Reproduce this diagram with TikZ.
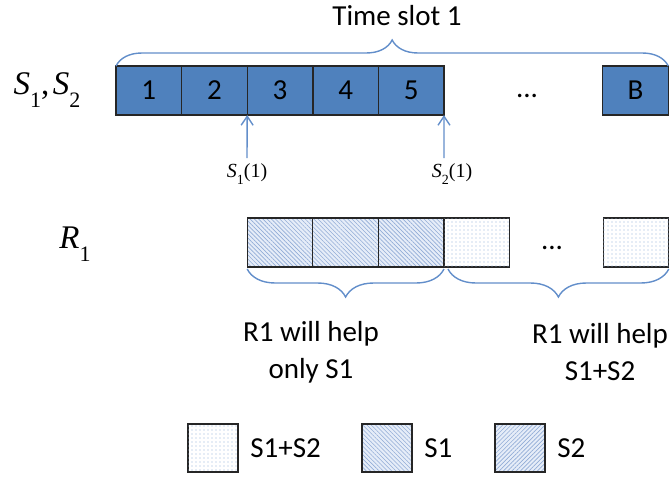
\documentclass[tikz,border=0pt]{standalone}
\usepackage{fontspec}
\setmainfont{Carlito}
\newfontfamily\tms{Liberation Serif}
\usepackage{xcolor}
\usepackage{tikz}
\usetikzlibrary{arrows.meta}
\usetikzlibrary{positioning}
\usetikzlibrary{patterns.meta}
\usetikzlibrary{decorations.pathreplacing}
\definecolor{slotblue}{RGB}{79,129,189}
\definecolor{braceblue}{RGB}{98,142,202}
\definecolor{hatchbg}{RGB}{230,237,248}
\definecolor{hatchline}{RGB}{145,172,214}
\definecolor{dotblue}{RGB}{150,178,218}
\newcommand{\svar}[3]{\textit{#1}\raisebox{-0.38em}{\fontsize{#3}{#3}\selectfont #2}}
\tikzstyle{slot} = [rectangle, draw=black!85, line width=0.7pt, fill=slotblue, minimum width=32.8pt, minimum height=24.5pt, inner sep=0pt, outer sep=0pt]
\tikzstyle{hone} = [rectangle, draw=black!85, line width=0.6pt, minimum width=32.8pt, minimum height=24.5pt, inner sep=0pt, outer sep=0pt, preaction={fill=hatchbg}, pattern={Lines[angle=-45,distance=1.5pt,line width=0.3pt]}, pattern color=hatchline]
\tikzstyle{htwo} = [hone, pattern={Lines[angle=45,distance=1.5pt,line width=0.3pt]}]
\tikzstyle{both} = [rectangle, draw=black!85, line width=0.6pt, minimum width=32.8pt, minimum height=24.5pt, inner sep=0pt, outer sep=0pt, fill=white, postaction={pattern={Dots[distance=2pt,radius=0.3pt]}, pattern color=dotblue}]
\tikzstyle{key} = [minimum width=25pt, minimum height=24pt]
\tikzstyle{up} = [draw=braceblue, line width=0.7pt, -{Straight Barb[length=4.5pt,width=6pt]}]
\tikzstyle{brup} = [draw=braceblue, line width=0.7pt, decorate, decoration={brace, amplitude=13pt}]
\tikzstyle{brdown} = [draw=braceblue, line width=0.7pt, decorate, decoration={brace, mirror, amplitude=14pt, raise=1pt}]
\begin{document}
\begin{tikzpicture}
				[x=0.5pt, y=-0.5pt,
				font=\fontsize{14.5}{18.5}\selectfont
				]
				\useasboundingbox (0,0) rectangle (671,478);
				% slots of the sources
				\node[slot] (s1) at (148.8,90.5) {1};
				\foreach \i/\j in {2/1,3/2,4/3,5/4}
				\node[slot, right=0pt of s\j] (s\i) {\i};
				\node (sdots) at (527,96) {...};
				\node[slot] (sB) at (635.5,90.5) {B};
				\node (lab) at (47,90) {\tms\fontsize{16.5}{18}\selectfont\svar{S}{1}{11},\kern0.1em\svar{S}{2}{11}};
				\draw[brup] (s1.north west) -- (sB.north east);
				\node (ts) at (397,16) {Time slot 1};
				% arrival instants
				\coordinate (a1) at (247,158);
				\coordinate (a2) at (444,158);
				\draw[up] (a1) -- (s2.south east);
				\draw[up] (a2) -- (s5.south east);
				\node (t1) at (247,174) {\tms\fontsize{10}{12}\selectfont\svar{S}{1}{7}(1)};
				\node (t2) at (452,174) {\tms\fontsize{10}{12}\selectfont\svar{S}{2}{7}(1)};
				% slots of the relay
				\node[hone] (r1) at (280,242.5) {};
				\node[hone, right=0pt of r1] (r2) {};
				\node[hone, right=0pt of r2] (r3) {};
				\node[both, right=0pt of r3] (r4) {};
				\node (rdots) at (552,248) {...};
				\node[both] (rB) at (636,242.5) {};
				\node (labr) at (75,244) {\tms\fontsize{16.5}{18}\selectfont\svar{R}{1}{11}};
				\draw[brdown] (r1.south west) -- (r3.south east);
				\draw[brdown] ([xshift=2pt]r4.south west) -- (rB.south east);
				\node[align=center] (h1) at (311,352) {R1 will help\\only S1};
				\node[align=center] (h2) at (600,352) {R1 will help\\S1+S2};
				% legend
				\node[both, key] (k1) at (213,448) {};
				\node[right=5pt of k1, inner sep=1pt] (k1t) {S1+S2};
				\node[hone, key] (k2) at (387,448) {};
				\node[right=5pt of k2, inner sep=1pt] (k2t) {S1};
				\node[htwo, key] (k3) at (520,448) {};
				\node[right=5pt of k3, inner sep=1pt] (k3t) {S2};
			\end{tikzpicture}
\end{document}
